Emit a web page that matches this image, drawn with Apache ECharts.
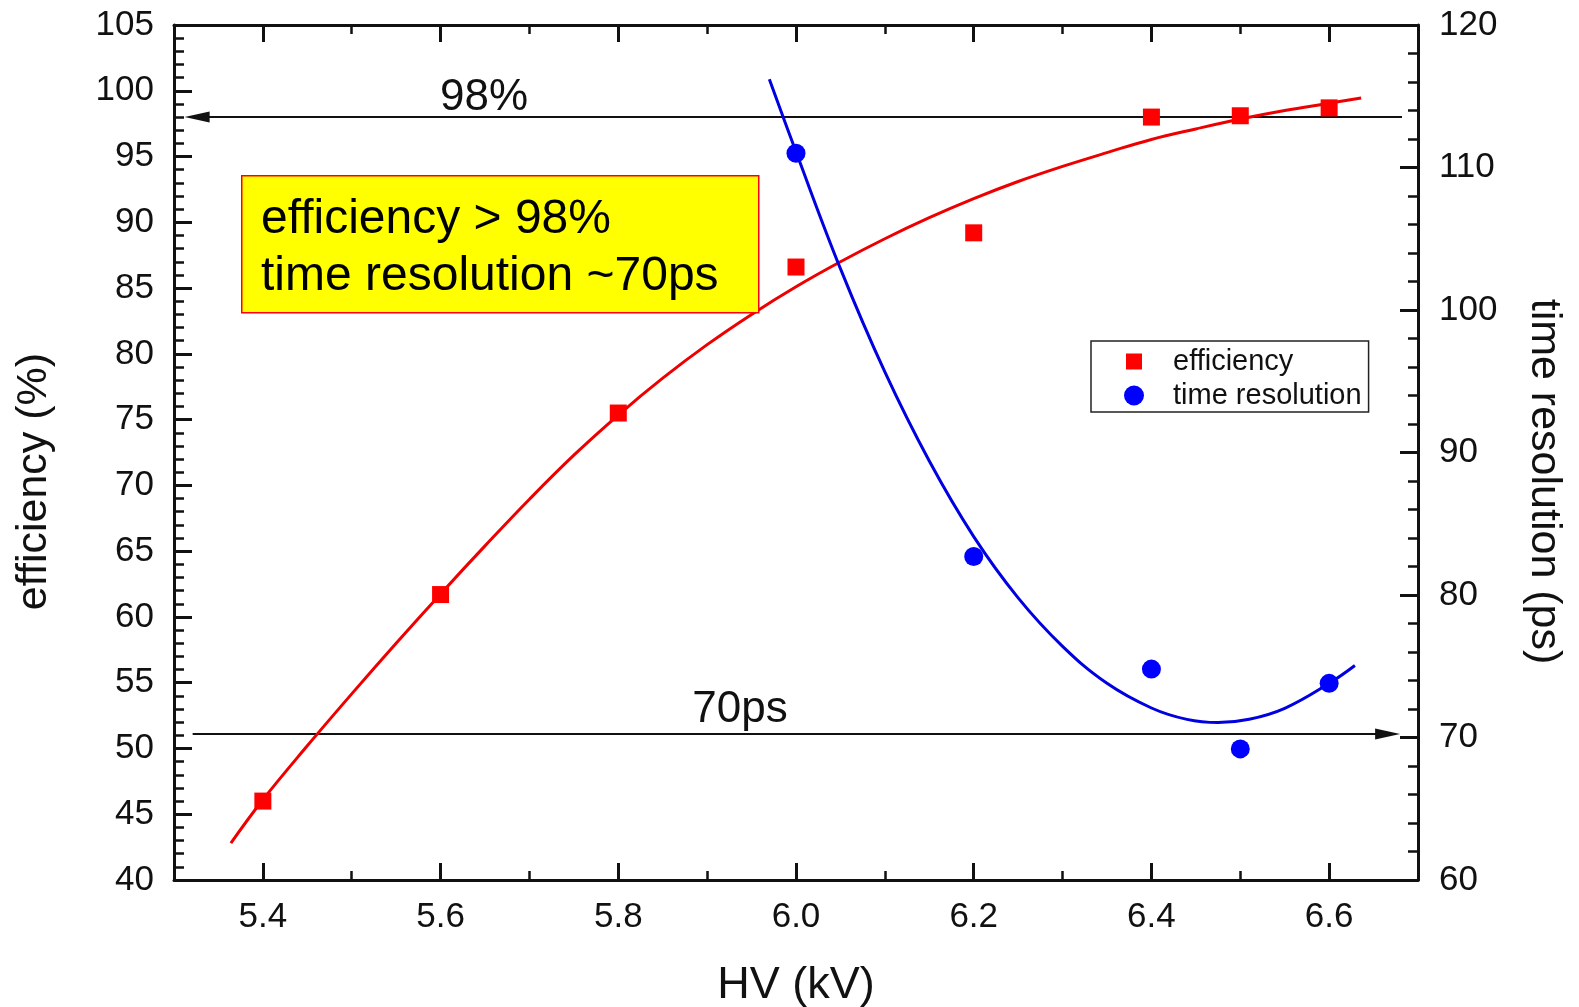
<!DOCTYPE html>
<html><head><meta charset="utf-8">
<script src="https://cdn.jsdelivr.net/npm/echarts@6/dist/echarts.min.js"></script>
<style>html,body{margin:0;padding:0;background:#fff}#c{width:1579px;height:1007px}</style>
</head><body><div id="c"></div>
<script>
// ---- data ----
const hvEff = [5.4, 5.6, 5.8, 6.0, 6.2, 6.4, 6.5, 6.6];
const efficiency = [46.0, 61.7, 75.5, 86.6, 89.2, 98.0, 98.1, 98.7];
const hvTime = [6.0, 6.2, 6.4, 6.5, 6.6];
const timeRes = [111.0, 82.7, 74.8, 69.2, 73.8];

const effFitX = [5.364, 5.4, 5.45, 5.5, 5.55, 5.6, 5.65, 5.7, 5.75, 5.8, 5.85, 5.9, 5.95, 6.0, 6.05, 6.1, 6.15, 6.2, 6.25, 6.3, 6.35, 6.4, 6.45, 6.5, 6.55, 6.6, 6.636];
const effFitY = [42.8, 46.1, 50.2, 54.15, 58.0, 61.75, 65.4, 68.95, 72.3, 75.35, 78.15, 80.7, 83.0, 85.1, 87.0, 88.75, 90.35, 91.8, 93.1, 94.25, 95.3, 96.3, 97.1, 97.85, 98.5, 99.05, 99.45];
const timeFitX = [5.97, 6.0, 6.05, 6.1, 6.15, 6.2, 6.25, 6.3, 6.35, 6.4, 6.44, 6.475, 6.51, 6.55, 6.6, 6.629];
const timeFitY = [116.2, 111.1, 102.9, 95.65, 89.4, 84.1, 79.8, 76.4, 73.8, 72.07, 71.27, 71.05, 71.28, 72.05, 73.8, 75.05];

const xMajorTicks = [5.4, 5.6, 5.8, 6.0, 6.2, 6.4, 6.6];
const xMinorTicks = [5.5, 5.7, 5.9, 6.1, 6.3, 6.5];

const arrow98X = [5.326, 6.682];   // efficiency 98 % reference arrow
const arrow98Y = [98, 98];
const arrow70X = [5.321, 6.6658];  // 70 ps reference arrow
const arrow70Y = [70.25, 70.25];
const labelTexts = ['98%', '70ps'];
const label98Pos = [5.649, 99.45];
const label70Pos = [5.937, 71.93];
const boxLines = ['efficiency > 98%', 'time resolution ~70ps'];

// ---- chart ----
const FONT = '"Liberation Sans", Arial, sans-serif';
const INK = '#111';
const zip = (a, b) => a.map((v, i) => [v, b[i]]);

const xCommon = {type: 'value', min: 5.3, max: 6.7, splitLine: {show: false}, gridIndex: 0};
const majTick = (vals) => ({show: true, inside: true, length: 17, customValues: vals, lineStyle: {color: INK, width: 3}});
const minTick = (vals) => ({show: true, inside: true, length: 9, customValues: vals, lineStyle: {color: INK, width: 2.5}});
const axLine = {show: true, onZero: false, lineStyle: {color: INK, width: 3}};
const noBorder = {textBorderWidth: 0, textBorderColor: 'transparent', textShadowBlur: 0};

const chart = echarts.init(document.getElementById('c'));
chart.setOption({
  animation: false,
  backgroundColor: '#fff',
  grid: {left: 174, right: 161, top: 25, bottom: 127, containLabel: false, outerBoundsMode: 'none'},
  xAxis: [
    Object.assign({}, xCommon, {
      position: 'bottom', axisLine: axLine, axisTick: majTick(xMajorTicks),
      axisLabel: {customValues: xMajorTicks, formatter: v => v.toFixed(1), margin: 20, fontSize: 35, color: INK, fontFamily: FONT},
      name: 'HV (kV)', nameLocation: 'middle', nameGap: 83,
      nameTextStyle: {fontSize: 45, color: INK, fontFamily: FONT}
    }),
    Object.assign({}, xCommon, {position: 'bottom', axisLine: {show: false}, axisTick: minTick(xMinorTicks), axisLabel: {show: false}}),
    Object.assign({}, xCommon, {position: 'top', axisLine: axLine, axisTick: majTick(xMajorTicks), axisLabel: {show: false}}),
    Object.assign({}, xCommon, {position: 'top', axisLine: {show: false}, axisTick: minTick(xMinorTicks), axisLabel: {show: false}})
  ],
  yAxis: [
    {
      type: 'value', position: 'left', min: 40, max: 105, interval: 5,
      axisLine: axLine, splitLine: {show: false},
      axisTick: {show: true, inside: true, length: 18, lineStyle: {color: INK, width: 3}},
      minorTick: {show: true, splitNumber: 5, length: 10, lineStyle: {color: INK, width: 2.5}},
      axisLabel: {margin: 20, fontSize: 35, color: INK, fontFamily: FONT},
      name: 'efficiency (%)', nameLocation: 'middle', nameGap: 118,
      nameTextStyle: {fontSize: 43, color: INK, fontFamily: FONT, padding: [0, 58, 0, 0]}
    },
    {
      type: 'value', position: 'right', min: 60, max: 120, interval: 10,
      axisLine: axLine, splitLine: {show: false},
      axisTick: {show: true, inside: true, length: 18, lineStyle: {color: INK, width: 3}},
      minorTick: {show: true, splitNumber: 5, length: 10, lineStyle: {color: INK, width: 2.5}},
      axisLabel: {margin: 21, fontSize: 35, color: INK, fontFamily: FONT},
      name: 'time resolution (ps)', nameLocation: 'middle', nameGap: 104, nameRotate: -90,
      nameTextStyle: {fontSize: 43, color: INK, fontFamily: FONT, padding: [0, 0, 0, 58]}
    }
  ],
  legend: {
    data: [{name: 'efficiency', icon: 'path://M0,0M20,20M2,2L18,2L18,18L2,18Z'}, {name: 'time resolution'}],
    orient: 'vertical', left: 1091, top: 341,
    padding: [6, 7, 2, 33], itemGap: 5, itemWidth: 20, itemHeight: 20,
    borderColor: '#222', borderWidth: 1.5, selectedMode: false,
    textStyle: {fontSize: 29, color: INK, fontFamily: FONT, padding: [0, 0, 0, 24], lineHeight: 28}
  },
  graphic: [
    {type: 'rect', left: 241, top: 175, z: 10,
     shape: {width: 517, height: 137}, style: {fill: '#ffff00', stroke: '#ff0000', lineWidth: 1.5}},
    {type: 'text', left: 261, top: 191, z: 11,
     style: {text: boxLines.join('\n'), fontSize: 48, lineHeight: 57, fontFamily: FONT, fill: '#000'}}
  ],
  series: [
    {name: 'arrow98', type: 'line', xAxisIndex: 0, yAxisIndex: 0, symbol: 'none', silent: true, z: 2,
     lineStyle: {color: INK, width: 2}, itemStyle: {color: INK},
     data: [{value: [arrow98X[0], arrow98Y[0]], symbol: 'triangle', symbolSize: [11, 25], symbolRotate: 90},
            {value: [arrow98X[1], arrow98Y[1]]}]},
    {name: 'arrow70', type: 'line', xAxisIndex: 0, yAxisIndex: 1, symbol: 'none', silent: true, z: 2,
     lineStyle: {color: INK, width: 2}, itemStyle: {color: INK},
     data: [{value: [arrow70X[0], arrow70Y[0]]},
            {value: [arrow70X[1], arrow70Y[1]], symbol: 'triangle', symbolSize: [11, 25], symbolRotate: -90}]},
    {name: 'label98', type: 'scatter', xAxisIndex: 0, yAxisIndex: 0, symbolSize: 0, silent: true,
     itemStyle: {color: '#fff', opacity: 1},
     label: Object.assign({show: true, position: 'inside', formatter: labelTexts[0], fontSize: 44, color: INK, fontFamily: FONT}, noBorder),
     data: [label98Pos]},
    {name: 'label70', type: 'scatter', xAxisIndex: 0, yAxisIndex: 1, symbolSize: 0, silent: true,
     itemStyle: {color: '#fff', opacity: 1},
     label: Object.assign({show: true, position: 'inside', formatter: labelTexts[1], fontSize: 44, color: INK, fontFamily: FONT}, noBorder),
     data: [label70Pos]},
    {name: 'efficiency fit', type: 'line', xAxisIndex: 0, yAxisIndex: 0, smooth: 0.4, showSymbol: false, z: 3,
     lineStyle: {color: '#ee0000', width: 3}, data: zip(effFitX, effFitY)},
    {name: 'time fit', type: 'line', xAxisIndex: 0, yAxisIndex: 1, smooth: 0.4, showSymbol: false, z: 3,
     lineStyle: {color: '#0000e0', width: 3}, data: zip(timeFitX, timeFitY)},
    {name: 'efficiency', type: 'scatter', xAxisIndex: 0, yAxisIndex: 0, symbol: 'rect', symbolSize: 17, z: 4,
     itemStyle: {color: '#ff0000', opacity: 1}, data: zip(hvEff, efficiency)},
    {name: 'time resolution', type: 'scatter', xAxisIndex: 0, yAxisIndex: 1, symbol: 'circle', symbolSize: 19, z: 4,
     itemStyle: {color: '#0000ff', opacity: 1}, data: zip(hvTime, timeRes)}
  ]
});
</script>
</body></html>
